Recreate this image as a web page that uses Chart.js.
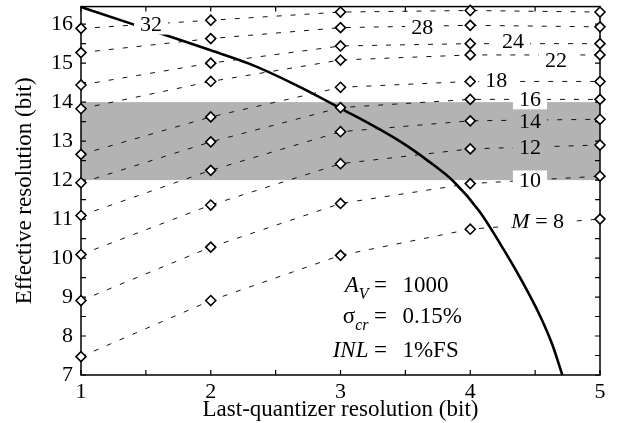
<!DOCTYPE html>
<html>
<head>
<meta charset="utf-8">
<script src="https://cdn.jsdelivr.net/npm/chart.js@4.4.0/dist/chart.umd.min.js"></script>
<style>
  html, body { margin: 0; padding: 0; background: #fff; }
  #wrap { width: 623px; height: 423px; }
</style>
</head>
<body>
<div id="wrap"><canvas id="resChart"></canvas></div>
<script>
// last-quantizer resolution (x) and effective resolution for each M
const lastQuantBits = [1, 2, 3, 4, 5];
const effM8  = [7.47, 8.91, 10.07, 10.74, 11.00];
const effM10 = [8.91, 10.28, 11.40, 11.91, 12.10];
const effM12 = [10.09, 11.36, 12.42, 12.80, 12.90];
const effM14 = [11.09, 12.25, 13.24, 13.52, 13.56];
const effM16 = [11.93, 12.98, 13.86, 14.07, 14.07];
const effM18 = [12.66, 13.62, 14.38, 14.53, 14.53];
const effM22 = [13.83, 14.53, 15.08, 15.21, 15.21];
const effM24 = [14.44, 15.00, 15.44, 15.50, 15.50];
const effM28 = [15.27, 15.63, 15.91, 15.97, 15.93];
const effM32 = [15.89, 16.10, 16.31, 16.35, 16.31];

// limit curve (A_V = 1000, sigma_cr = 0.15%, INL = 1%FS)
const limitX = [1.0, 1.38, 1.66, 2.0, 2.3, 2.65, 2.99, 3.45, 3.68, 3.87, 4.07, 4.27, 4.40, 4.53, 4.63, 4.71];
const limitY = [16.44, 16.02, 15.71, 15.33, 14.98, 14.45, 13.86, 13.01, 12.48, 11.97, 11.2, 10.15, 9.4, 8.57, 7.8, 7.0];

// line labels (M values) placed in data units
const labelText = ['M = 8', '10', '12', '14', '16', '18', '22', '24', '28', '32'];
const labelX = [4.52, 4.46, 4.46, 4.46, 4.46, 4.20, 4.66, 4.33, 3.63, 1.54];
const labelY = [10.94, 11.99, 12.84, 13.52, 14.07, 14.56, 15.08, 15.55, 15.91, 15.99];

const xTicks = [1, 2, 3, 4, 5];
const yTicks = [7, 8, 9, 10, 11, 12, 13, 14, 15, 16];
const bandLow = 12;
const bandHigh = 14;

const SERIF = '"Liberation Serif", "DejaVu Serif", serif';
const BAND = '#b3b3b3';

const mSeries = [effM8, effM10, effM12, effM14, effM16, effM18, effM22, effM24, effM28, effM32];

const datasets = mSeries.map(vals => ({
    data: vals.map((v, i) => ({ x: lastQuantBits[i], y: v })),
    borderColor: '#111',
    borderWidth: 1,
    borderDash: [5, 9],
    pointStyle: 'rectRot',
    pointRadius: 5,
    pointBackgroundColor: '#fff',
    pointBorderColor: '#000',
    pointBorderWidth: 1.6,
    clip: false
}));
datasets.push({
    data: limitX.map((x, i) => ({ x: x, y: limitY[i] })),
    borderColor: '#000',
    borderWidth: 2.6,
    pointRadius: 0,
    cubicInterpolationMode: 'monotone',
    clip: false
});

// band + frame with inward ticks, then labels and the parameter block
const framePlugin = {
    id: 'frame',
    beforeDatasetsDraw(chart) {
        const { ctx, chartArea: a, scales: { x, y } } = chart;
        ctx.save();
        ctx.fillStyle = BAND;
        const top = y.getPixelForValue(bandHigh), bot = y.getPixelForValue(bandLow);
        ctx.fillRect(a.left, top, a.right - a.left, bot - top);

        ctx.strokeStyle = '#000';
        ctx.lineWidth = 1.5;
        ctx.strokeRect(a.left, a.top, a.right - a.left, a.bottom - a.top);
        ctx.lineWidth = 1.2;
        ctx.beginPath();
        for (let v = 1; v <= 5; v += 0.5) {
            const px = x.getPixelForValue(v);
            ctx.moveTo(px, a.bottom); ctx.lineTo(px, a.bottom - 5);
            ctx.moveTo(px, a.top); ctx.lineTo(px, a.top + 5);
        }
        for (let v = 7; v <= 16.45; v += 0.5) {
            const py = y.getPixelForValue(v);
            ctx.moveTo(a.left, py); ctx.lineTo(a.left + 5, py);
            ctx.moveTo(a.right, py); ctx.lineTo(a.right - 5, py);
        }
        ctx.stroke();
        ctx.restore();
    },
    afterDatasetsDraw(chart) {
        const { ctx, chartArea: a, scales: { x, y } } = chart;
        const top = y.getPixelForValue(bandHigh), bot = y.getPixelForValue(bandLow);
        ctx.save();
        ctx.font = '22px ' + SERIF;
        ctx.textBaseline = 'middle';
        ctx.fillStyle = '#000';

        labelText.forEach((t, i) => {
            const cx = x.getPixelForValue(labelX[i]);
            const cy = y.getPixelForValue(labelY[i]);
            let w;
            if (t.startsWith('M')) {
                ctx.font = 'italic 22px ' + SERIF;
                const wm = ctx.measureText('M').width;
                ctx.font = '22px ' + SERIF;
                w = wm + ctx.measureText(' = 8').width;
            } else {
                w = ctx.measureText(t).width;
            }
            const bw = w + 12, bh = 20;
            const inBand = cy > top && cy < bot;
            ctx.fillStyle = inBand ? BAND : '#fff';
            ctx.fillRect(cx - bw / 2, cy - bh / 2, bw, bh);
            ctx.fillStyle = '#000';
            ctx.textAlign = 'left';
            if (t.startsWith('M')) {
                ctx.font = 'italic 22px ' + SERIF;
                ctx.fillText('M', cx - w / 2, cy + 1);
                const wm = ctx.measureText('M').width;
                ctx.font = '22px ' + SERIF;
                ctx.fillText(' = 8', cx - w / 2 + wm, cy + 1);
            } else {
                ctx.fillText(t, cx - w / 2, cy + 1);
            }
        });

        // parameter block
        const eqX = x.getPixelForValue(3.308);
        const rows = [
            { y: 9.13, left: [['A', 'italic 23px', 0], ['V', 'italic 16px', 7]], right: '1000' },
            { y: 8.34, left: [['\u03c3', '23px', 0], ['cr', 'italic 16px', 7]], right: '0.15%' },
            { y: 7.46, left: [['INL', 'italic 23px', 0]], right: '1%FS' }
        ];
        ctx.textBaseline = 'alphabetic';
        rows.forEach(r => {
            const by = y.getPixelForValue(r.y);
            let total = 0;
            r.left.forEach(p => { ctx.font = p[1] + ' ' + SERIF; total += ctx.measureText(p[0]).width; });
            let px = eqX - 12 - total;
            ctx.textAlign = 'left';
            r.left.forEach(p => {
                ctx.font = p[1] + ' ' + SERIF;
                ctx.fillText(p[0], px, by + p[2]);
                px += ctx.measureText(p[0]).width;
            });
            ctx.font = '23px ' + SERIF;
            ctx.textAlign = 'center';
            ctx.fillText('=', eqX, by);
            ctx.textAlign = 'left';
            ctx.fillText(r.right, eqX + 22, by);
        });

        // x axis title (drawn after tick labels so it sits on top like the original)
        ctx.font = '23px ' + SERIF;
        ctx.textAlign = 'center';
        ctx.textBaseline = 'middle';
        ctx.fillText('Last-quantizer resolution (bit)', (a.left + a.right) / 2, a.bottom + 35);
        ctx.restore();
    }
};

const ctx = document.getElementById('resChart').getContext('2d');
new Chart(ctx, {
    type: 'line',
    data: { datasets: datasets },
    options: {
        responsive: true,
        maintainAspectRatio: false,
        animation: false,
        layout: { padding: { top: 3, right: 23, left: 0, bottom: 0 } },
        plugins: {
            legend: { display: false },
            tooltip: { enabled: false }
        },
        scales: {
            x: {
                type: 'linear',
                min: 1,
                max: 5,
                afterBuildTicks: s => { s.ticks = xTicks.map(v => ({ value: v })); },
                afterFit: s => { s.height = 48; s.paddingLeft = 0; s.paddingRight = 0; },
                grid: { display: false, drawTicks: false },
                border: { display: false },
                ticks: { color: '#000', font: { family: SERIF, size: 22 }, padding: 4 }
            },
            y: {
                type: 'linear',
                min: 7,
                max: 16.45,
                afterBuildTicks: s => { s.ticks = yTicks.map(v => ({ value: v })); },
                afterFit: s => { s.width = 81; s.paddingTop = 0; s.paddingBottom = 0; },
                grid: { display: false, drawTicks: false },
                border: { display: false },
                ticks: { color: '#000', font: { family: SERIF, size: 22 }, padding: 8 },
                title: {
                    display: true,
                    text: 'Effective resolution (bit)',
                    color: '#000',
                    font: { family: SERIF, size: 23 },
                    padding: { top: 11, bottom: 0 }
                }
            }
        }
    },
    plugins: [framePlugin]
});
</script>
</body>
</html>
